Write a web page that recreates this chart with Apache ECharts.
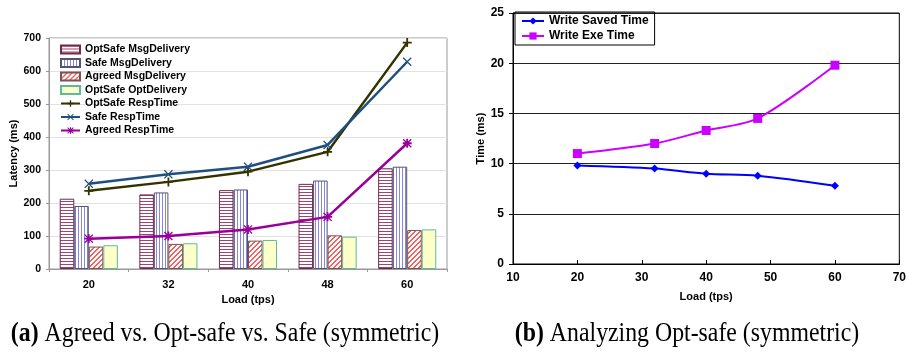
<!DOCTYPE html>
<html>
<head>
<meta charset="utf-8">
<script src="https://cdn.jsdelivr.net/npm/echarts@6/dist/echarts.min.js"></script>
<style>
  html, body { margin: 0; padding: 0; background: #fff; }
  #main { width: 909px; height: 352px; }
</style>
</head>
<body>
<div id="main"></div>
<script>
// left chart (a)
const loads = ['20', '32', '40', '48', '60'];
const optSafeMsg = [213, 226, 239, 258, 305];
const safeMsg = [191, 232, 241, 268, 310];
const agreedMsg = [68, 76, 86, 102, 118];
const optSafeOpt = [72, 78, 88, 98, 120];
const optSafeResp = [237, 264, 295, 355, 686];
const safeResp = [258, 287, 310, 376, 628];
const agreedResp = [92, 100, 120, 158, 381];

// right chart (b)
const loadsB = [20, 32, 40, 48, 60];
const writeSaved = [9.8, 9.5, 9.0, 8.8, 7.8];
const writeExe = [11.0, 12.0, 13.3, 14.5, 19.8];

const hatch = (kind, color) => {
    const n = kind === 'diag' ? 5 : 3;
    const c = document.createElement('canvas');
    c.width = n; c.height = n;
    const ctx = c.getContext('2d');
    ctx.fillStyle = '#fff';
    ctx.fillRect(0, 0, n, n);
    ctx.fillStyle = color;
    for (let x = 0; x < n; x++) {
        for (let y = 0; y < n; y++) {
            if (kind === 'h' && y === 0) ctx.fillRect(x, y, 1, 1);
            if (kind === 'v' && x === 0) ctx.fillRect(x, y, 1, 1);
            if (kind === 'diag' && (x + y) % 5 < 2) ctx.fillRect(x, y, 1, 1);
        }
    }
    return { image: c, repeat: 'repeat' };
};

const plus = 'path://M4,0H6V10H4ZM0,4H10V6H0Z';
const cross = 'path://M1,0L5,4L9,0L10,1L6,5L10,9L9,10L5,6L1,10L0,9L4,5L0,1Z';
const star = 'path://M4,0H6V10H4ZM0,4H10V6H0ZM1,0L5,4L9,0L10,1L6,5L10,9L9,10L5,6L1,10L0,9L4,5L0,1Z';

const bold = { fontFamily: 'Liberation Sans', fontWeight: 'bold', fontSize: 11, color: '#000' };

const bar = (name, data, fill, border) => ({
    name: name, type: 'bar', xAxisIndex: 0, yAxisIndex: 0, data: data,
    barGap: '0%', barCategoryGap: '27%',
    itemStyle: { color: fill, borderColor: border, borderWidth: 1 },
    emphasis: { disabled: true }
});

const respLine = (name, data, color, sym) => ({
    name: name, type: 'line', xAxisIndex: 0, yAxisIndex: 0, data: data,
    symbol: sym, symbolSize: 9,
    lineStyle: { color: color, width: 2.5 },
    itemStyle: { color: color },
    z: 5
});

const pairs = (ys) => ys.map((y, i) => [loadsB[i], y]);

const caption = (x, label, rest) => ({
    type: 'text', x: x, y: 334, scaleX: 0.85, originX: 0,
    style: {
        text: '{b|' + label + '} ' + rest,
        font: '28px "Liberation Serif"', fill: '#000', align: 'center', verticalAlign: 'middle',
        rich: { b: { fontFamily: 'Liberation Serif', fontSize: 28, fontWeight: 'bold' } }
    }
});

var myChart = echarts.init(document.getElementById('main'));
option = {
    animation: false,
    grid: [
        { left: 49, top: 38, width: 398, height: 231, show: true, borderColor: '#999', borderWidth: 1 },
        { left: 513, top: 13, width: 389, height: 251, show: true, borderColor: '#000', borderWidth: 1 }
    ],
    legend: [
        {
            left: 60, top: 44, orient: 'vertical', itemGap: 2.5, itemWidth: 19, itemHeight: 8,
            padding: 0, textStyle: Object.assign({}, bold, { fontSize: 10.5 }),
            data: [
                { name: 'OptSafe MsgDelivery', icon: 'rect' },
                { name: 'Safe MsgDelivery', icon: 'rect' },
                { name: 'Agreed MsgDelivery', icon: 'rect' },
                { name: 'OptSafe OptDelivery', icon: 'rect' },
                'OptSafe RespTime', 'Safe RespTime', 'Agreed RespTime'
            ]
        },
        {
            left: 515, top: 12, orient: 'vertical', itemGap: 3, itemWidth: 22, itemHeight: 9,
            padding: [3, 6, 3, 6], borderColor: '#000', borderWidth: 1,
            textStyle: { fontFamily: 'Liberation Sans', fontWeight: 'bold', fontSize: 12, color: '#000' },
            data: ['Write Saved Time', 'Write Exe Time']
        }
    ],
    xAxis: [
        {
            gridIndex: 0, type: 'category', data: loads,
            axisLine: { lineStyle: { color: '#999' } },
            axisTick: { show: true, alignWithLabel: false, length: 3, lineStyle: { color: '#999' } },
            axisLabel: Object.assign({ margin: 10 }, bold),
            name: 'Load (tps)', nameLocation: 'middle', nameGap: 22, nameTextStyle: bold
        },
        {
            gridIndex: 1, type: 'value', min: 10, max: 70, interval: 10,
            axisLine: { lineStyle: { color: '#000' } },
            axisTick: { show: true, inside: true, length: 4, lineStyle: { color: '#000' } },
            splitLine: { show: false },
            axisLabel: Object.assign({ margin: 8 }, bold, { fontSize: 12 }),
            name: 'Load (tps)', nameLocation: 'middle', nameGap: 27, nameTextStyle: bold
        }
    ],
    yAxis: [
        {
            gridIndex: 0, type: 'value', min: 0, max: 700, interval: 100,
            axisLine: { show: true, lineStyle: { color: '#999' } },
            axisTick: { show: true, length: 3, lineStyle: { color: '#999' } },
            splitLine: { lineStyle: { color: '#e2e2e2' } },
            axisLabel: Object.assign({ margin: 8 }, bold, { fontSize: 10.5 }),
            name: 'Latency (ms)', nameLocation: 'middle', nameGap: 28, nameTextStyle: bold
        },
        {
            gridIndex: 1, type: 'value', min: 0, max: 25, interval: 5,
            axisLine: { show: true, lineStyle: { color: '#000' } },
            axisTick: { show: true, length: 4, lineStyle: { color: '#000' } },
            splitLine: { lineStyle: { color: '#222' } },
            axisLabel: Object.assign({ margin: 9 }, bold, { fontSize: 12 }),
            name: 'Time (ms)', nameLocation: 'middle', nameGap: 24, nameTextStyle: bold
        }
    ],
    series: [
        bar('OptSafe MsgDelivery', optSafeMsg, hatch('h', '#a3426e'), '#6e2a4a'),
        bar('Safe MsgDelivery', safeMsg, hatch('v', '#8585f0'), '#555566'),
        bar('Agreed MsgDelivery', agreedMsg, hatch('diag', '#ff5c5c'), '#775555'),
        bar('OptSafe OptDelivery', optSafeOpt, '#ffffc8', '#5fb99f'),
        respLine('OptSafe RespTime', optSafeResp, '#333300', plus),
        respLine('Safe RespTime', safeResp, '#1f4f80', cross),
        respLine('Agreed RespTime', agreedResp, '#990099', star),
        {
            name: 'Write Saved Time', type: 'line', xAxisIndex: 1, yAxisIndex: 1,
            data: pairs(writeSaved), smooth: 0.3,
            symbol: 'diamond', symbolSize: 8,
            lineStyle: { color: '#0000ff', width: 2 }, itemStyle: { color: '#0000ff' }
        },
        {
            name: 'Write Exe Time', type: 'line', xAxisIndex: 1, yAxisIndex: 1,
            data: pairs(writeExe), smooth: 0.3,
            symbol: 'rect', symbolSize: 9,
            lineStyle: { color: '#cc00ff', width: 2 }, itemStyle: { color: '#cc00ff' }
        }
    ],
    graphic: [
        caption(225, '(a)', 'Agreed vs. Opt-safe vs. Safe (symmetric)'),
        caption(687, '(b)', 'Analyzing Opt-safe (symmetric)')
    ]
};
myChart.setOption(option);
</script>
</body>
</html>
